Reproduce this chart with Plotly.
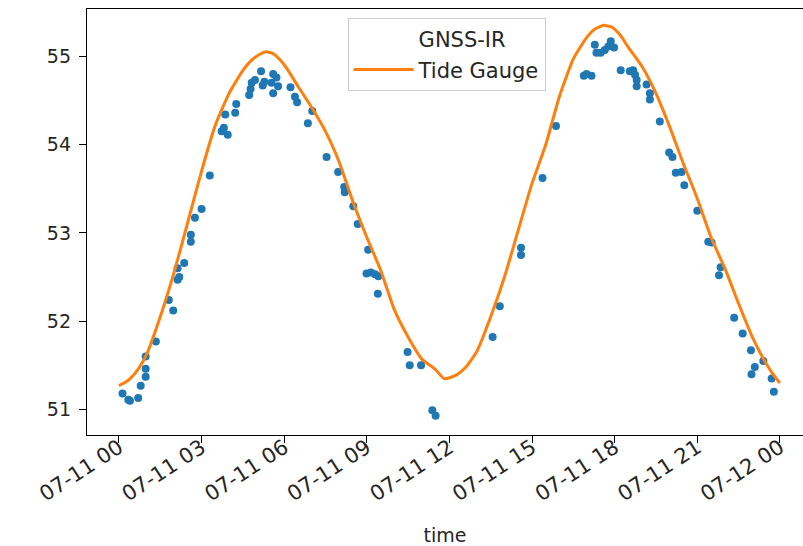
import pandas as pd
import plotly.graph_objects as go

# GNSS-IR retrievals: hours after 2021-07-11 00:00 and sea level (m)
gnss_hours = [0.13, 0.34, 0.40, 0.70, 0.79, 0.97, 0.97, 0.97, 1.34, 1.81, 1.97, 2.13, 2.19, 2.13,
              2.37, 2.61, 2.61, 2.76, 3.00, 3.30, 3.73, 3.81, 3.95, 3.86, 4.22, 4.26, 4.73, 4.78,
              4.82, 4.94, 5.16, 5.22, 5.28, 5.54, 5.60, 5.60, 5.72, 5.78, 6.23, 6.39, 6.47, 6.86,
              7.02, 7.54, 7.96, 8.18, 8.20, 8.51, 8.67, 9.05, 8.99, 9.15, 9.30, 9.42, 9.40, 10.48,
              10.56, 10.97, 11.38, 11.50, 13.57, 13.83, 14.60, 14.60, 15.38, 15.87, 16.88, 16.98,
              17.16, 17.28, 17.34, 17.49, 17.64, 17.77, 17.86, 17.98, 18.22, 18.55, 18.67, 18.74,
              18.80, 18.80, 19.16, 19.28, 19.28, 19.64, 19.98, 20.10, 20.22, 20.43, 20.53, 21.00,
              21.40, 21.52, 21.79, 21.85, 22.34, 22.65, 22.95, 22.97, 23.09, 23.40, 23.70, 23.78]
gnss_values = [51.18, 51.11, 51.10, 51.13, 51.27, 51.37, 51.46, 51.60, 51.77, 52.24, 52.12, 52.47,
               52.50, 52.60, 52.66, 52.90, 52.98, 53.17, 53.27, 53.65, 54.15, 54.19, 54.11, 54.34,
               54.36, 54.46, 54.56, 54.63, 54.70, 54.73, 54.83, 54.67, 54.71, 54.70, 54.80, 54.58,
               54.76, 54.66, 54.65, 54.54, 54.48, 54.24, 54.38, 53.86, 53.69, 53.52, 53.46, 53.30,
               53.10, 52.81, 52.54, 52.55, 52.53, 52.51, 52.31, 51.65, 51.50, 51.50, 50.99, 50.93,
               51.82, 52.17, 52.83, 52.75, 53.62, 54.21, 54.78, 54.80, 54.78, 55.13, 55.04, 55.04,
               55.07, 55.11, 55.17, 55.10, 54.84, 54.83, 54.84, 54.79, 54.73, 54.66, 54.68, 54.58,
               54.51, 54.26, 53.91, 53.86, 53.68, 53.69, 53.54, 53.25, 52.90, 52.89, 52.52, 52.61,
               52.04, 51.86, 51.67, 51.40, 51.48, 51.55, 51.35, 51.20]

# Tide gauge record
tide_hours = [0.0, 0.25, 0.5, 0.75, 1.0, 1.5, 2.0, 2.5, 3.0, 3.5, 4.0, 4.5, 4.8, 5.1, 5.35, 5.6,
              5.85, 6.1, 6.5, 7.0, 7.5, 8.0, 8.5, 9.0, 9.5, 10.0, 10.5, 11.0, 11.3, 11.5, 11.8,
              12.0, 12.3, 12.6, 13.0, 13.5, 14.0, 14.5, 15.0, 15.5, 16.0, 16.5, 17.0, 17.3, 17.6,
              17.9, 18.2, 18.5, 19.0, 19.5, 20.0, 20.5, 21.0, 21.5, 22.0, 22.5, 23.0, 23.5, 23.75,
              24.0]
tide_values = [51.27, 51.31, 51.38, 51.48, 51.62, 52.05, 52.55, 53.12, 53.70, 54.22, 54.58, 54.84,
               54.95, 55.02, 55.05, 55.03, 54.96, 54.86, 54.66, 54.42, 54.15, 53.80, 53.35, 52.95,
               52.58, 52.13, 51.82, 51.57, 51.50, 51.45, 51.35, 51.36, 51.40, 51.48, 51.66, 52.05,
               52.50, 53.03, 53.56, 54.00, 54.55, 54.97, 55.22, 55.31, 55.35, 55.33, 55.24, 55.10,
               54.88, 54.58, 54.20, 53.78, 53.39, 52.95, 52.60, 52.20, 51.82, 51.52, 51.40, 51.30]

y_ticks = [51, 52, 53, 54, 55]
base = pd.Timestamp("2021-07-11 00:00")
x_tick_hours = [0, 3, 6, 9, 12, 15, 18, 21, 24]

def to_time(hours):
    return [base + pd.Timedelta(hours=h) for h in hours]

FONT = "DejaVu Sans"
fig = go.Figure()
fig.add_trace(go.Scatter(x=to_time(gnss_hours), y=gnss_values, mode="markers",
                         marker=dict(color="#1f77b4", size=8), showlegend=False, name="GNSS-IR"))
# Legend entry for GNSS-IR (no visible handle, as in the reference)
fig.add_trace(go.Scatter(x=[None], y=[None], mode="lines", name="GNSS-IR",
                         line=dict(color="rgba(0,0,0,0)", width=3)))
fig.add_trace(go.Scatter(x=to_time(tide_hours), y=tide_values, mode="lines", name="Tide Gauge",
                         line=dict(color="#ff7f0e", width=3, shape="spline", smoothing=0.5)))

fig.update_layout(
    width=803, height=546,
    margin=dict(l=87, r=0, t=9, b=111),
    paper_bgcolor="white", plot_bgcolor="white",
    font=dict(family=FONT, size=19, color="#262626"),
    legend=dict(x=0.364, y=0.979, xanchor="left", yanchor="top",
                bordercolor="#cccccc", borderwidth=1, bgcolor="rgba(255,255,255,0.8)",
                font=dict(size=21), itemwidth=60),
    xaxis=dict(
        range=[base + pd.Timedelta(hours=-1.16), base + pd.Timedelta(hours=24.84)],
        tickvals=to_time(x_tick_hours), tickformat="%m-%d %H", tickangle=-33,
        ticklabelstandoff=-16, tickfont=dict(size=21), automargin=False,
        showgrid=False, zeroline=False, showline=True, mirror=True, linecolor="black", linewidth=1.3,
        ticks="outside", ticklen=7, tickcolor="black", tickwidth=1.3,
        title=dict(text="time", font=dict(size=19), standoff=36),
    ),
    yaxis=dict(
        range=[50.711, 55.535], tickvals=y_ticks, ticklabelstandoff=4, automargin=False,
        showgrid=False, zeroline=False, showline=True, mirror=False, linecolor="black", linewidth=1.3,
        ticks="outside", ticklen=7, tickcolor="black", tickwidth=1.3,
    ),
)
fig.write_html("out.html")
